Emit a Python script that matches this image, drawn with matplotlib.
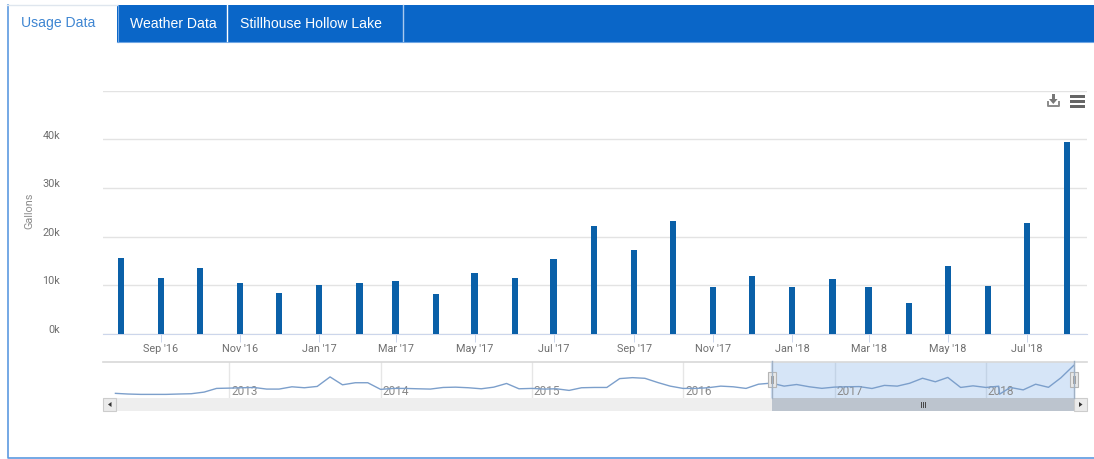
"""Usage Data panel: monthly gallons bars with navigator strip below."""

import matplotlib

matplotlib.use("Agg")
import matplotlib.dates as mdates
import matplotlib.pyplot as plt
import pandas as pd
from matplotlib.patches import Polygon, Rectangle
from matplotlib.transforms import ScaledTranslation

W, H = 1094, 460
FONT = ["Liberation Sans", "DejaVu Sans"]
AXIS_FONT = ["Roboto", "DejaVu Sans"]

# bars in the selected window, Aug 2016 - Aug 2018
months = pd.date_range("2016-08-01", "2018-08-01", freq="MS")
usage_k = [15.5, 11.4, 13.6, 10.5, 8.4, 10.1, 10.5, 10.8, 8.2, 12.4, 11.4, 15.3, 22.1,
           17.3, 23.2, 9.6, 11.8, 9.6, 11.3, 9.6, 6.3, 14.0, 9.8, 22.7, 39.5]

# navigator history before the window, Apr 2012 - Jul 2016
history_months = pd.date_range("2012-04-01", "2016-07-01", freq="MS")
history_k = [1.6, 0.7, 0.2, 0.2, 0.2, 0.7, 1.1, 3.3, 8.3, 8.7, 9.2, 9.6, 7.4, 7.4, 10.5,
             9.2, 11.0, 23.9, 13.2, 16.0, 16.0, 7.0, 8.3, 8.3, 7.8, 7.4, 9.6, 10.0, 9.2,
             7.8, 10.0, 15.0, 7.8, 8.3, 7.4, 7.8, 5.6, 9.2, 9.6, 9.6, 21.6, 22.9, 22.0,
             16.3, 11.4, 8.3, 8.3, 9.2, 11.4, 10.5, 8.3, 14.0]

# the navigator line has one extra low reading just after Feb 2018
dip_date = pd.Timestamp("2018-02-03")
dip_k = 0.5

y_ticks = [0, 10, 20, 30, 40, 50]
y_labels = ["0k", "10k", "20k", "30k", "40k", ""]
x_ticks = pd.date_range("2016-09-01", "2018-07-01", freq="2MS")
x_labels = [d.strftime("%b '%y") for d in x_ticks]
years = [2013, 2014, 2015, 2016, 2017, 2018]
tabs = ["Usage Data", "Weather Data", "Stillhouse Hollow Lake"]

BLUE = "#0a66c8"
BAR = "#0a60a8"
GRID = "#e3e3e3"
TEXT = "#6f6f6f"


def px_axes(fig, x0, y0, x1, y1):
    """axes placed by pixel box, y measured from the top"""
    return fig.add_axes([x0 / W, 1 - y1 / H, (x1 - x0) / W, (y1 - y0) / H])


fig = plt.figure(figsize=(W / 100, H / 100), dpi=100, facecolor="white")

# main chart
ax = px_axes(fig, 103, 92, 1087, 334.5)
ax.bar(months, usage_k, width=5, color=BAR, zorder=3)
ax.set_xlim(x_ticks[0] - pd.Timedelta(days=44.7), x_ticks[0] + pd.Timedelta(days=714.4))
ax.set_ylim(0, 50)
ax.set_yticks(y_ticks)
ax.set_yticklabels(y_labels, family=AXIS_FONT, fontsize=7.8, color=TEXT, va="bottom")
ax.set_xticks(x_ticks)
# baseline alignment keeps labels with and without descenders on one line
ax.set_xticklabels(x_labels, family=AXIS_FONT, fontsize=7.8, color=TEXT, va="baseline")
ax.tick_params(axis="y", length=0, pad=31)
ax.tick_params(axis="x", length=6, width=0.7, color="#ccd6eb", pad=6.8)
nudge = ScaledTranslation(0, -0.5 / 100, fig.dpi_scale_trans)
for lab in ax.get_yticklabels():
    lab.set_transform(lab.get_transform() + nudge)
ax.grid(axis="y", color=GRID, lw=1, zorder=0)
for side in ["top", "left", "right"]:
    ax.spines[side].set_visible(False)
ax.spines["bottom"].set_color("#ccd6eb")
ax.set_axisbelow(True)

# navigator
nav = px_axes(fig, 103, 362.5, 1087, 399)
nav_series = pd.Series(history_k + usage_k, index=history_months.append(months))
nav_series.loc[dip_date] = dip_k
nav_series = nav_series.sort_index()
jan13 = pd.Timestamp("2013-01-01")
nav.set_xlim(jan13 - pd.Timedelta(days=305), jan13 + pd.Timedelta(days=2070))
nav.set_ylim(-4.7, 44.8)
nav.axvspan(months[0], months[-1], color="#d6e5f7", zorder=1)
for yr in years:
    d = pd.Timestamp(f"{yr}-01-01")
    nav.axvline(d, color="#e6e6e6" if yr < 2017 else "#c3d3e6", lw=1, zorder=2)
    nav.annotate(str(yr), (mdates.date2num(d), 0), xycoords=("data", "axes fraction"),
                 xytext=(1.5, 3), textcoords="offset points", family=AXIS_FONT,
                 fontsize=8.6, color="#8a8a8a", zorder=3)
nav.plot(nav_series.index, nav_series.values, color="#7c9fcb", lw=1, zorder=4)
nav.set_xticks([])
nav.set_yticks([])
for side in ["left", "right", "bottom"]:
    nav.spines[side].set_visible(False)
nav.spines["top"].set_color("#d8d8d8")
nav.spines["top"].set_linewidth(1.2)

# page chrome in pixel coordinates
ui = px_axes(fig, 0, 0, W, H)
ui.set_xlim(0, W)
ui.set_ylim(H, 0)
ui.axis("off")
ui.patch.set_alpha(0)


def box(x0, y0, x1, y1, color, **kw):
    ui.add_patch(Rectangle((x0, y0), x1 - x0, y1 - y0, facecolor=color, edgecolor=kw.pop("edge", "none"),
                           lw=kw.pop("lw", 0), **kw))


# tab strip and frame
box(117, 6, W, 42.6, BLUE)
ui.plot([7.5, 7.5, W], [6, 459, 459], color="#5c9ae0", lw=1.2)
ui.plot([7, 117], [5.5, 5.5], color="#dfe6ee", lw=1)
ui.plot([117, W], [42.8, 42.8], color="#6fa6e4", lw=0.8)
ui.plot([117.5, 117.5], [6, 43], color="#6fa6e4", lw=0.8)
ui.plot([226.5, 226.5], [6, 42], color="white", lw=1)
ui.plot([402.5, 402.5], [6, 42], color="#a9c9ee", lw=1)
tab_x = [58, 173.5, 310.5]
tab_color = ["#3f86d2", "white", "white"]
for t, tx, tc in zip(tabs, tab_x, tab_color):
    ui.text(tx, 23.5, t, ha="center", va="center", family=FONT, fontsize=10.1, color=tc)
ui.text(29, 211, "Gallons", rotation=90, ha="center", va="center", family=AXIS_FONT, fontsize=7.8, color="#8c8c8c")

# export icons
for yb in [95.5, 100.5, 105.5]:
    box(1069.5, yb, 1085, yb + 3, "#666666")
box(1051.6, 95, 1055, 101, "#777777")
ui.add_patch(Polygon([[1049, 100], [1057.6, 100], [1053.3, 105]], facecolor="#777777"))
ui.plot([1047.5, 1047.5, 1059, 1059], [103, 107, 107, 103], color="#8a8a8a", lw=1.4)

# scrollbar
box(103, 398.5, 1087, 411.7, "#eeeeee")
box(771.5, 398.5, 1074, 411.7, "#bcc4ce")
for x0 in [103, 1074]:
    box(x0, 398.5, x0 + 13, 411.7, "#ebebeb", edge="#cccccc", lw=0.8)
ui.add_patch(Polygon([[111.5, 403], [111.5, 408], [108, 405.5]], facecolor="#333333"))
ui.add_patch(Polygon([[1079, 403], [1079, 408], [1082.5, 405.5]], facecolor="#333333"))
for gx in [921, 923, 925]:
    ui.plot([gx, gx], [403, 408], color="#444444", lw=0.7)

# navigator handles
ui.plot([771.5, 771.5], [362, 399], color="#9fb0c4", lw=1)
ui.plot([1074, 1074], [362, 399], color="#9fb0c4", lw=1)
for hx in [771.5, 1074]:
    box(hx - 4, 373, hx + 4, 387.5, "#e8e8e8", edge="#b5b5b5", lw=0.8)
    ui.plot([hx - 1, hx - 1], [377, 384], color="#a0a0a0", lw=0.7)
    ui.plot([hx + 1, hx + 1], [377, 384], color="#a0a0a0", lw=0.7)

fig.savefig("out.png", dpi=100)
